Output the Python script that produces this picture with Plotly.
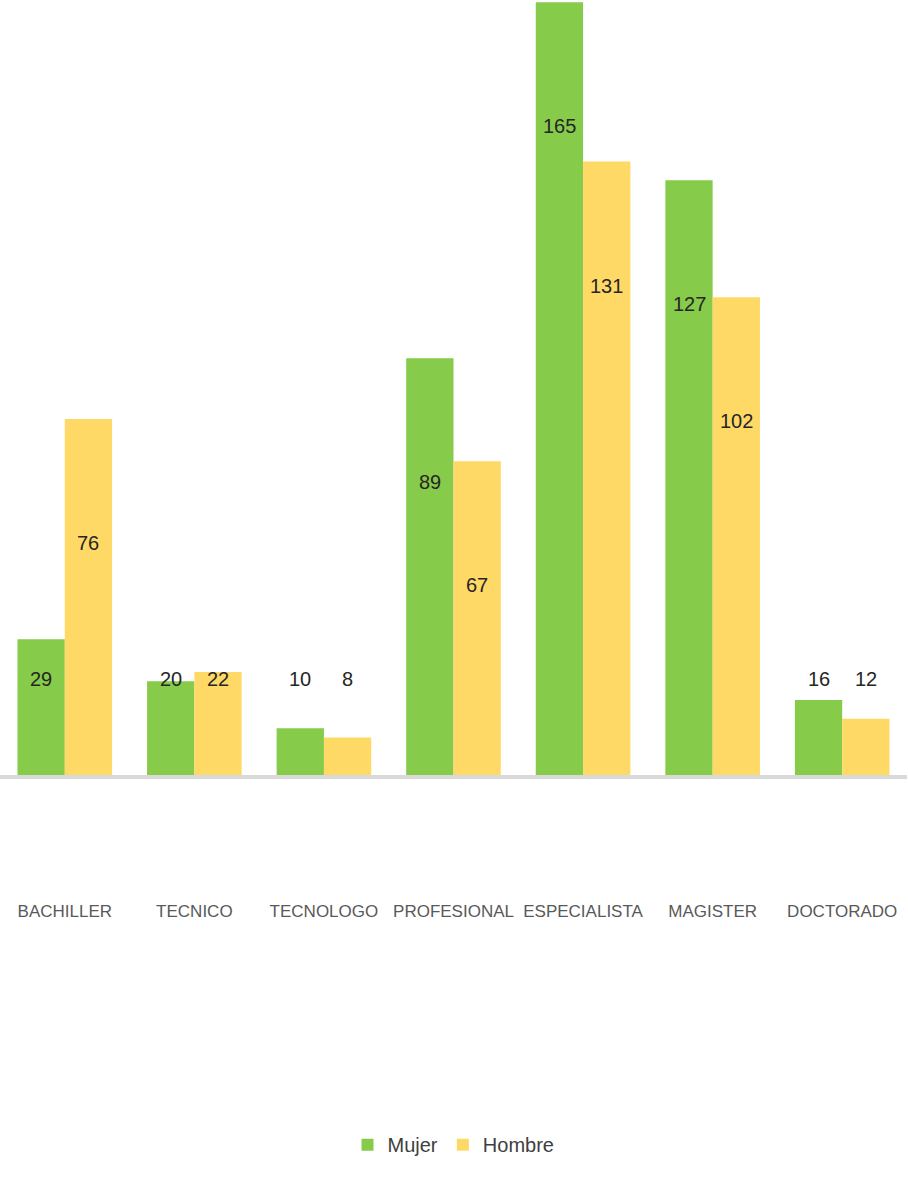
import plotly.graph_objects as go

categories = ["BACHILLER", "TECNICO", "TECNOLOGO", "PROFESIONAL", "ESPECIALISTA", "MAGISTER", "DOCTORADO"]
mujer = [29, 20, 10, 89, 165, 127, 16]
hombre = [76, 22, 8, 67, 131, 102, 12]

GREEN = "#86CB4A"
YELLOW = "#FFD966"
FONT = "Liberation Sans, Arial, sans-serif"

fig = go.Figure()
fig.add_trace(go.Bar(name="Mujer", x=categories, y=mujer, marker=dict(color=GREEN, line=dict(width=0))))
fig.add_trace(go.Bar(name="Hombre", x=categories, y=hombre, marker=dict(color=YELLOW, line=dict(width=0))))

def label_y(v):
    return max(v - 26.5, 20.5)

annotations = []
for series, shift in ((mujer, -23.5), (hombre, 23.5)):
    for c, v in zip(categories, series):
        annotations.append(dict(x=c, y=label_y(v), text=str(v), showarrow=False,
                                xshift=shift, font=dict(family=FONT, size=20, color="#262626"),
                                yanchor="middle", xanchor="center"))

fig.update_layout(
    width=908, height=1197,
    margin=dict(l=0, r=1, t=0, b=422, autoexpand=False),
    paper_bgcolor="white", plot_bgcolor="white",
    barmode="group", bargap=0.27, bargroupgap=0,
    annotations=annotations,
    font=dict(family=FONT),
    showlegend=True,
    legend=dict(orientation="h", x=0.5, xanchor="center", y=-0.477, yanchor="middle",
                font=dict(family=FONT, size=20, color="#404040"), itemwidth=30),
)
fig.update_xaxes(showline=True, linecolor="#D9D9D9", linewidth=4, ticks="",
                 tickangle=0, automargin=False,
                 tickfont=dict(family=FONT, size=17, color="#595959"),
                 ticklabelstandoff=118, showgrid=False)
fig.update_yaxes(range=[0, 165.5], visible=False, showgrid=False, zeroline=False, automargin=False)

fig.write_html("out.html", config={"displayModeBar": False},
               post_script="document.body.style.margin='0';")
